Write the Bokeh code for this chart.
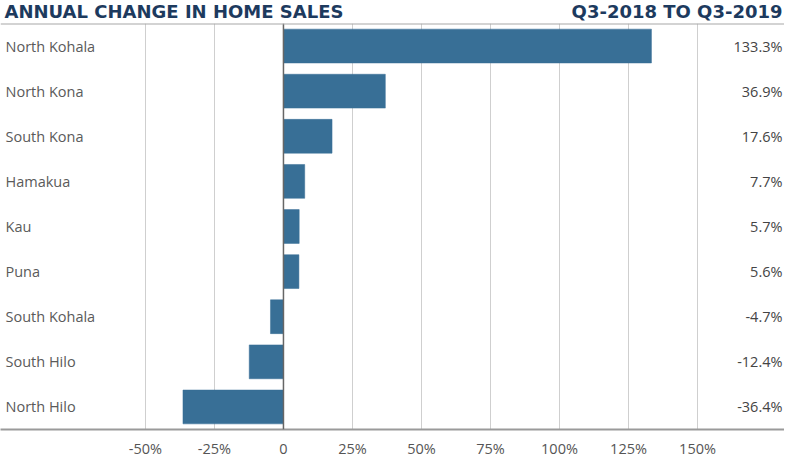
from bokeh.plotting import figure
from bokeh.layouts import column
from bokeh.models import ColumnDataSource, FactorRange, Range1d, Span, FixedTicker
from bokeh.core.properties import value
from bokeh.embed import file_html
from bokeh.resources import INLINE

areas = ["North Kohala", "North Kona", "South Kona", "Hamakua", "Kau", "Puna",
         "South Kohala", "South Hilo", "North Hilo"]
changes = [133.3, 36.9, 17.6, 7.7, 5.7, 5.6, -4.7, -12.4, -36.4]
tick_values = [-50, -25, 0, 25, 50, 75, 100, 125, 150]
tick_labels = ["-50%", "-25%", "0", "25%", "50%", "75%", "100%", "125%", "150%"]
title_text = "ANNUAL CHANGE IN HOME SALES"
period_text = "Q3-2018 TO Q3-2019"

X_START, X_END = -102.5, 181.5
NAVY = "#1d3a5e"

src = ColumnDataSource(dict(
    area=areas,
    change=changes,
    label=[f"{v:.1f}%" for v in changes],
    lx=[X_START] * len(areas),
    rx=[X_END] * len(areas),
))

# ---- header strip (title left, period right) ----
hdr = figure(width=784, height=22, output_backend="svg", toolbar_location=None, title=None,
             x_range=Range1d(X_START, X_END), y_range=Range1d(0, 22),
             min_border=0, x_axis_type=None, y_axis_type=None)
hdr.outline_line_color = None
hdr.grid.visible = False
hdr_src = ColumnDataSource(dict(x=[X_START, X_END], y=[11, 11], t=[title_text, period_text],
                                align=["left", "right"], off=[4, -2]))
hdr.text(x="x", y="y", text="t", source=hdr_src, x_offset="off", text_align="align",
         text_baseline="middle", text_font=value("DejaVu Sans"), text_font_style="bold",
         text_font_size="18px", text_color=NAVY)

# ---- main chart ----
p = figure(width=784, height=438, output_backend="svg", toolbar_location=None, title=None,
           y_range=FactorRange(factors=list(reversed(areas)), range_padding=0),
           x_range=Range1d(X_START, X_END),
           min_border_left=0, min_border_right=0, min_border_top=1, min_border_bottom=0)
p.outline_line_color = None
p.background_fill_color = "white"

p.hbar(y="area", left=0, right="change", height=0.75, source=src,
       fill_color="#386f96", line_color="#386f96", line_width=0.5)

p.ygrid.grid_line_color = None
p.xgrid.ticker = FixedTicker(ticks=tick_values)
p.xgrid.grid_line_color = "#cfcfcf"
p.xgrid.grid_line_width = 1

p.add_layout(Span(location=0, dimension="height", line_color="#666666", line_width=1.5))
p.add_layout(Span(location=9, dimension="width", line_color="#a8a8a8", line_width=2))

p.yaxis.visible = False
xa = p.xaxis[0]
xa.ticker = FixedTicker(ticks=tick_values)
xa.major_label_overrides = {t: l for t, l in zip(tick_values, tick_labels)}
xa.axis_line_color = "#9a9a9a"
xa.axis_line_width = 2
xa.major_tick_line_color = None
xa.minor_tick_line_color = None
xa.major_tick_out = 0
xa.major_tick_in = 0
xa.major_label_text_font = "Open Sans"
xa.major_label_text_font_size = "14.5px"
xa.major_label_text_color = "#555555"
xa.major_label_standoff = 9

p.text(x="lx", y="area", text="area", source=src, x_offset=5,
       text_font=value("Open Sans"), text_font_size="14.5px", text_color="#5a5a5a",
       text_align="left", text_baseline="middle")
p.text(x="rx", y="area", text="label", source=src, x_offset=-2,
       text_font=value("Open Sans"), text_font_size="14.5px", text_color="#444444",
       text_align="right", text_baseline="middle")

layout = column(hdr, p, spacing=0)
open("out.html", "w").write(file_html(layout, INLINE))
